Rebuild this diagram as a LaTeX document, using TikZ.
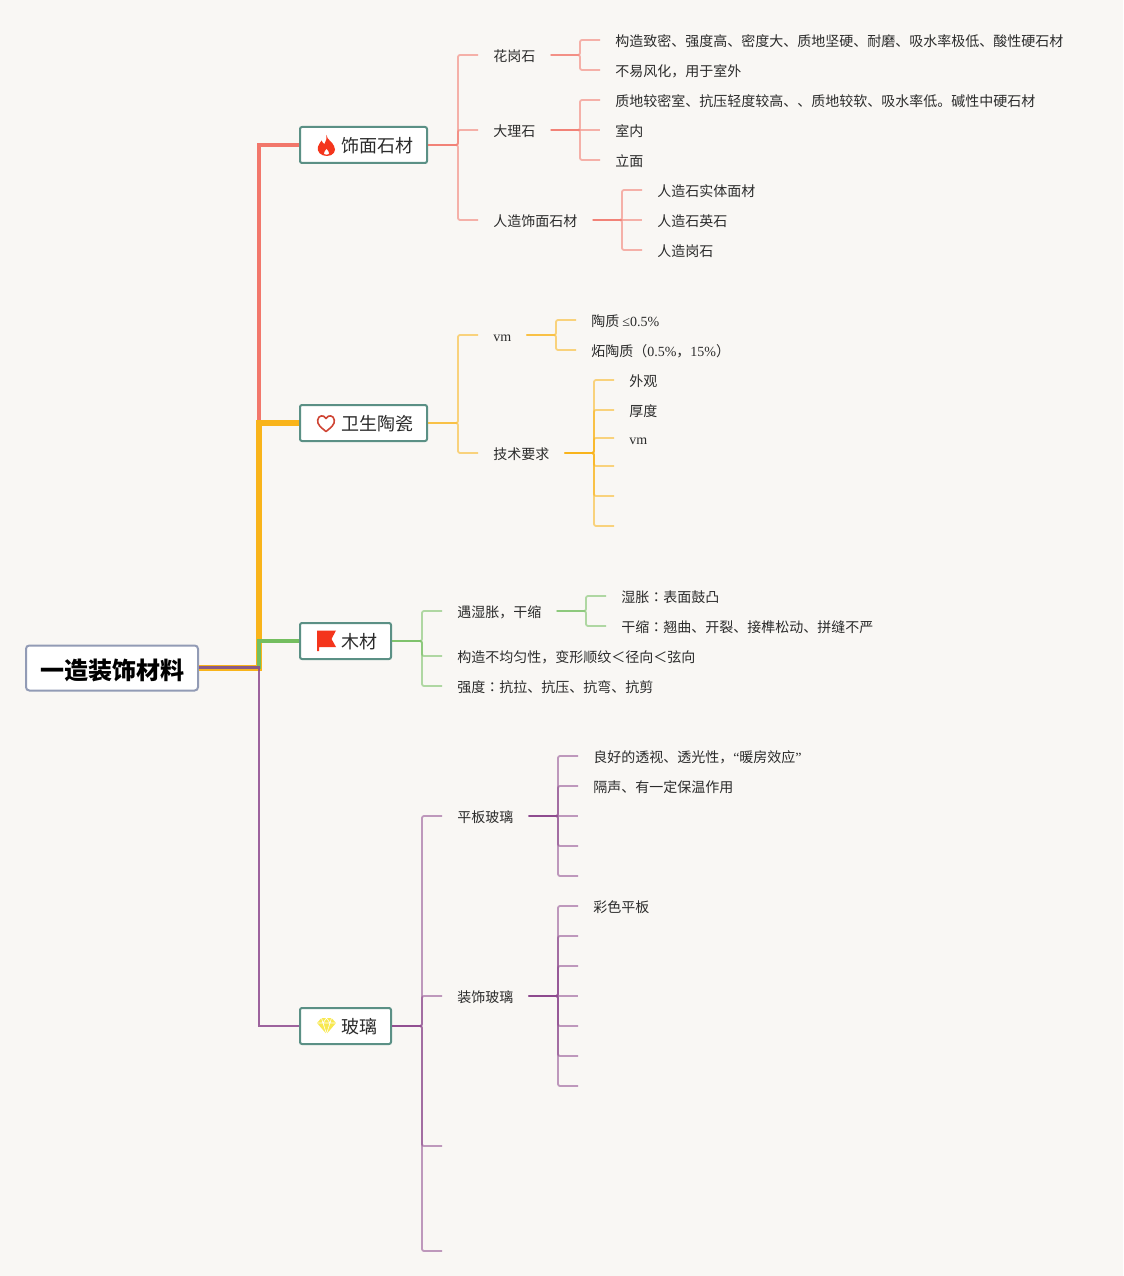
\documentclass[tikz,border=0pt]{standalone}
\usepackage{fontspec}
\setmainfont{Noto Sans CJK SC}
\newfontfamily\latin{Liberation Serif}
\newfontfamily\tcf{Noto Sans CJK TC}
\definecolor{bgc}{HTML}{F9F7F4}
\definecolor{txt}{HTML}{2B2B2B}
\definecolor{cr}{HTML}{F2776B}
\definecolor{cy}{HTML}{F9B41A}
\definecolor{cg}{HTML}{74BE5F}
\definecolor{cp}{HTML}{8E4A8E}
\definecolor{rootb}{HTML}{929BB5}
\definecolor{mainb}{HTML}{5B9085}
\definecolor{iconred}{HTML}{F4351C}
\definecolor{iconheart}{HTML}{CF4534}
\definecolor{icony}{HTML}{F8E84F}
\tikzset{
  x=0.75pt,y=-0.75pt,
  leaf/.style={anchor=west,inner xsep=11.25pt,inner ysep=0pt,text=txt,text height=10pt,text depth=0.5pt,font=\fontsize{10.5pt}{12pt}\selectfont},
  mainbox/.style={anchor=west,draw=mainb,fill=white,line width=1.5pt,rounded corners=1.5pt,inner sep=0pt,minimum height=27pt,text=txt,text height=12.5pt,text depth=1pt,font=\fontsize{13.5pt}{16pt}\selectfont},
  rootbox/.style={anchor=west,draw=rootb,fill=white,line width=1.5pt,rounded corners=2.5pt,inner sep=0pt,minimum height=33.75pt,minimum width=129pt,text=black,text height=17.5pt,text depth=0.8pt,font=\fontsize{18pt}{22pt}\selectfont\bfseries},
  link/.style={draw=#1,opacity=.55,line width=1.35pt,rounded corners=1.5pt},
  straightlink/.style={draw=#1,opacity=.55,line width=1.35pt},
  trunk/.style={rounded corners=0pt}
}
\newcommand{\mlabel}[1]{\hspace*{30.75pt}#1\hspace*{10.5pt}}
\begin{document}
\begin{tikzpicture}
\useasboundingbox (0,0) rectangle (1123,1276);
\fill[bgc] (0,0) rectangle (1123,1276);
% root and main
\node[rootbox] (root) at (25,668) {一造装饰材料};
\node[mainbox] (mA) at (299,145) {\mlabel{饰面石材}};
\node[mainbox] (mB) at (299,423) {\mlabel{卫生陶瓷}};
\node[mainbox] (mC) at (299,641) {\mlabel{木材}};
\node[mainbox] (mD) at (299,1026) {\mlabel{玻璃}};
% trunk
\coordinate (tr) at (259,667.5);
\draw[trunk,draw=cr,line width=3.4pt] (root.east |- tr) -- (tr) -- (tr |- mA.west) -- (mA.west);
\draw[trunk,draw=cy,line width=4.5pt] (root.east |- tr) -- (tr) -- (tr |- mB.west) -- (mB.west);
\draw[trunk,draw=cg,line width=2.4pt] (root.east |- tr) -- (tr) -- (tr |- mC.west) -- (mC.west);
\draw[trunk,draw=cp,line width=1.7pt,opacity=.85] (root.east |- tr) -- (tr) -- (tr |- mD.west) -- (mD.west);
% icons
\fill[iconred] (326.5,135) .. controls (327,140) and (332,141) .. (334,146) .. controls (337,151) and (333,156) .. (327,156) .. controls (321,156) and (316.5,152) .. (318,146.5) .. controls (318.5,144) and (320.5,143) .. (321.5,140.5) .. controls (322.5,142.5) and (323.5,144) .. (324.5,144) .. controls (326,141) and (327,138) .. (326.5,135) -- cycle;
\fill[white] (326.5,149) .. controls (327.5,151) and (329.5,151.5) .. (329,153.5) .. controls (328.5,155) and (324.5,155) .. (324,153.5) .. controls (323.5,152) and (325.5,151) .. (326.5,149) -- cycle;
\draw[draw=iconheart,line width=1.2pt,line join=round] (326,431.5) .. controls (321,427.5) and (317,424.5) .. (317.7,420) .. controls (318.3,415) and (324,414.5) .. (326,418.5) .. controls (328,414.5) and (333.7,415) .. (334.3,420) .. controls (335,424.5) and (331,427.5) .. (326,431.5) -- cycle;
\fill[iconred] (317,630.5) -- (336,630.5) -- (331.5,639) -- (336,647) -- (319,647) -- (319,651) -- (317,651) -- cycle;
\fill[icony] (321.5,1018) -- (331.5,1018) -- (336,1023) -- (326.5,1034) -- (317,1023) -- cycle;
\draw[white,line width=.45pt] (317,1023) -- (336,1023) (321.5,1018) -- (323,1023) -- (326.5,1034) -- (330,1023) -- (331.5,1018) (323,1023) -- (326.5,1018) -- (330,1023);
% level 2 red
\node[leaf] (a1) at (478,55) {花岗石};
\node[leaf] (a2) at (478,130) {大理石};
\node[leaf] (a3) at (478,220) {人造饰面石材};
\node[leaf] (a11) at (600,40) {构造致密、强度高、密度大、质地坚硬、耐磨、吸水率极低、酸性硬石材};
\node[leaf] (a12) at (600,70) {不易风化，用于室外};
\node[leaf] (a21) at (600,100) {质地较密室、抗压轻度较高、、质地较软、吸水率低。碱性中硬石材};
\node[leaf] (a22) at (600,130) {室内};
\node[leaf] (a23) at (600,160) {立面};
\node[leaf] (a31) at (642,190) {人造石实体面材};
\node[leaf] (a32) at (642,220) {人造石英石};
\node[leaf] (a33) at (642,250) {人造岗石};
\coordinate (sA) at (458,145);
\coordinate (sA1) at (580,55);
\coordinate (sA2) at (580,130);
\coordinate (sA3) at (622,220);
\foreach \c in {a1,a2,a3} \draw[link=cr] (mA.east) -- (sA) -- (sA |- \c.west) -- (\c.west);
\foreach \c in {a11,a12} \draw[link=cr] (a1.east) -- (sA1) -- (sA1 |- \c.west) -- (\c.west);
\foreach \c in {a21,a23} \draw[link=cr] (a2.east) -- (sA2) -- (sA2 |- \c.west) -- (\c.west);
\draw[straightlink=cr] (a2.east) -- (a22.west);
\foreach \c in {a31,a33} \draw[link=cr] (a3.east) -- (sA3) -- (sA3 |- \c.west) -- (\c.west);
\draw[straightlink=cr] (a3.east) -- (a32.west);
% yellow
\node[leaf] (b1) at (478,335) {{\latin vm}};
\node[leaf] (b2) at (478,453) {技术要求};
\node[leaf] (b11) at (576,320) {陶质 {\latin ≤0.5\%}};
\node[leaf] (b12) at (576,350) {炻陶质（{\latin 0.5\%}，{\latin 15\%}）};
\node[leaf] (b21) at (614,380) {外观};
\node[leaf] (b22) at (614,410) {厚度};
\node[leaf] (b23) at (614,438) {{\latin vm}};
\coordinate (b24) at (614,466);
\coordinate (b25) at (614,496);
\coordinate (b26) at (614,526);
\coordinate (sB) at (458,423);
\coordinate (sB1) at (556,335);
\coordinate (sB2) at (594,453);
\foreach \c in {b1,b2} \draw[link=cy] (mB.east) -- (sB) -- (sB |- \c.west) -- (\c.west);
\foreach \c in {b11,b12} \draw[link=cy] (b1.east) -- (sB1) -- (sB1 |- \c.west) -- (\c.west);
\foreach \c in {b21,b22,b23} \draw[link=cy] (b2.east) -- (sB2) -- (sB2 |- \c.west) -- (\c.west);
\foreach \c in {b24,b25,b26} \draw[link=cy] (b2.east) -- (sB2) -- (sB2 |- \c) -- (\c);
% green
\node[leaf] (c1) at (442,611) {遇湿胀，干缩};
\node[leaf] (c2) at (442,656) {构造不均匀性，变形顺纹＜径向＜弦向};
\node[leaf] (c3) at (442,686) {强度{\tcf ：}抗拉、抗压、抗弯、抗剪};
\node[leaf] (c11) at (606,596) {湿胀{\tcf ：}表面鼓凸};
\node[leaf] (c12) at (606,626) {干缩{\tcf ：}翘曲、开裂、接榫松动、拼缝不严};
\coordinate (sC) at (422,641);
\coordinate (sC1) at (586,611);
\foreach \c in {c1,c2,c3} \draw[link=cg] (mC.east) -- (sC) -- (sC |- \c.west) -- (\c.west);
\foreach \c in {c11,c12} \draw[link=cg] (c1.east) -- (sC1) -- (sC1 |- \c.west) -- (\c.west);
% purple
\node[leaf] (d1) at (442,816) {平板玻璃};
\node[leaf] (d2) at (442,996) {装饰玻璃};
\coordinate (d3) at (442,1146);
\coordinate (d4) at (442,1251);
\node[leaf] (d11) at (578,756) {良好的透视、透光性，{\latin “}暖房效应{\latin ”}};
\node[leaf] (d12) at (578,786) {隔声、有一定保温作用};
\coordinate (d13) at (578,816);
\coordinate (d14) at (578,846);
\coordinate (d15) at (578,876);
\node[leaf] (d21) at (578,906) {彩色平板};
\coordinate (d22) at (578,936);
\coordinate (d23) at (578,966);
\coordinate (d24) at (578,996);
\coordinate (d25) at (578,1026);
\coordinate (d26) at (578,1056);
\coordinate (d27) at (578,1086);
\coordinate (sD) at (422,1026);
\coordinate (sD1) at (558,816);
\coordinate (sD2) at (558,996);
\foreach \c in {d1,d2} \draw[link=cp] (mD.east) -- (sD) -- (sD |- \c.west) -- (\c.west);
\foreach \c in {d3,d4} \draw[link=cp] (mD.east) -- (sD) -- (sD |- \c) -- (\c);
\foreach \c in {d11,d12} \draw[link=cp] (d1.east) -- (sD1) -- (sD1 |- \c.west) -- (\c.west);
\foreach \c in {d14,d15} \draw[link=cp] (d1.east) -- (sD1) -- (sD1 |- \c) -- (\c);
\draw[straightlink=cp] (d1.east) -- (d13);
\draw[link=cp] (d2.east) -- (sD2) -- (sD2 |- d21.west) -- (d21.west);
\foreach \c in {d22,d23,d25,d26,d27} \draw[link=cp] (d2.east) -- (sD2) -- (sD2 |- \c) -- (\c);
\draw[straightlink=cp] (d2.east) -- (d24);
\end{tikzpicture}
\end{document}
